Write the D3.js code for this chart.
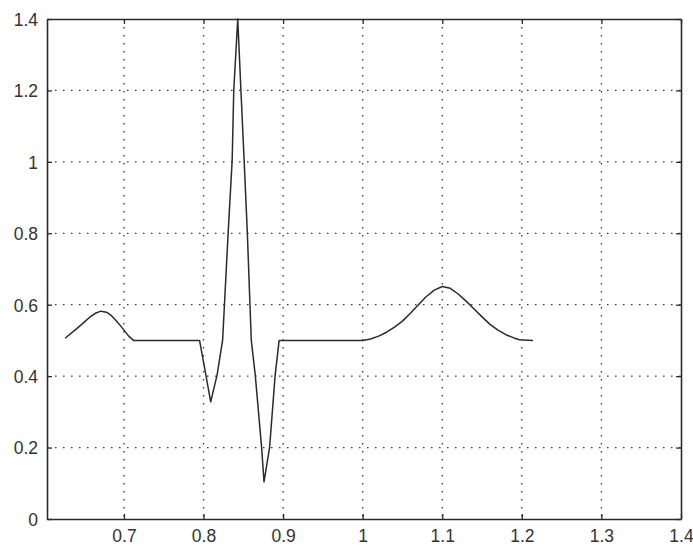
<!DOCTYPE html>
<html>
<head>
<meta charset="utf-8">
<script src="https://cdn.jsdelivr.net/npm/d3@7"></script>
<style>
  html, body { margin: 0; padding: 0; background: #ffffff; }
  svg { display: block; }
  text { font-family: "Liberation Sans", Arial, sans-serif; }
</style>
</head>
<body>
<svg id="chart" width="693" height="546"></svg>
<script>
// ---- Data ----
const xTicks = [0.7, 0.8, 0.9, 1.0, 1.1, 1.2, 1.3, 1.4];
const xTickLabels = ["0.7", "0.8", "0.9", "1", "1.1", "1.2", "1.3", "1.4"];
const yTicks = [0, 0.2, 0.4, 0.6, 0.8, 1.0, 1.2, 1.4];
const yTickLabels = ["0", "0.2", "0.4", "0.6", "0.8", "1", "1.2", "1.4"];

const timeValues = [
  0.626, 0.638, 0.648, 0.657, 0.664, 0.671, 0.678, 0.684, 0.690, 0.696, 0.701, 0.706, 0.712,
  0.795, 0.803, 0.809, 0.817, 0.824, 0.831, 0.836, 0.838, 0.843,
  0.847, 0.851, 0.855, 0.860, 0.865, 0.873, 0.876,
  0.883, 0.890, 0.895,
  1.000, 1.010, 1.020, 1.030, 1.040, 1.050, 1.060, 1.070, 1.080, 1.090, 1.100,
  1.110, 1.120, 1.130, 1.140, 1.150, 1.160, 1.170, 1.180, 1.190, 1.197, 1.214
];
const signalValues = [
  0.506, 0.528, 0.547, 0.565, 0.576, 0.582, 0.579, 0.570, 0.556, 0.540, 0.526, 0.512, 0.500,
  0.500, 0.403, 0.328, 0.403, 0.501, 0.804, 1.005, 1.201, 1.400,
  1.200, 1.005, 0.804, 0.501, 0.403, 0.200, 0.104,
  0.200, 0.403, 0.500,
  0.500, 0.504, 0.512, 0.523, 0.537, 0.554, 0.576, 0.600, 0.623, 0.641, 0.651,
  0.646, 0.630, 0.610, 0.588, 0.566, 0.545, 0.529, 0.516, 0.507, 0.502, 0.500
];

// ---- Layout ----
const svg = d3.select("#chart");
const mLeft = 47, mRight = 681, mTop = 19, mBottom = 519;

const x = d3.scaleLinear().domain([0.6033, 1.4]).range([mLeft, mRight]);
const y = d3.scaleLinear().domain([0, 1.4]).range([mBottom, mTop]);

const ink = "#2b2b2b";

// Grid lines (dotted)
const grid = svg.append("g");
grid.selectAll("line.vx").data(xTicks.filter(d => d < 1.4)).enter().append("line")
  .attr("x1", d => x(d)).attr("x2", d => x(d))
  .attr("y1", mTop).attr("y2", mBottom)
  .attr("stroke", "#3a3a3a").attr("stroke-width", 1.3)
  .attr("stroke-dasharray", "1.5,6.5");
grid.selectAll("line.hy").data(yTicks.filter(d => d > 0 && d < 1.4)).enter().append("line")
  .attr("x1", mLeft).attr("x2", mRight)
  .attr("y1", d => y(d)).attr("y2", d => y(d))
  .attr("stroke", "#3a3a3a").attr("stroke-width", 1.3)
  .attr("stroke-dasharray", "1.5,6.5");

// Axes (ticks inward on all sides)
const tickLen = 5;
const axB = svg.append("g").attr("transform", `translate(0,${mBottom})`)
  .call(d3.axisBottom(x).tickValues(xTicks).tickSizeInner(-tickLen).tickSizeOuter(0)
    .tickFormat((d, i) => xTickLabels[i]));
const axT = svg.append("g").attr("transform", `translate(0,${mTop})`)
  .call(d3.axisTop(x).tickValues(xTicks).tickSizeInner(-tickLen).tickSizeOuter(0)
    .tickFormat(""));
const axL = svg.append("g").attr("transform", `translate(${mLeft},0)`)
  .call(d3.axisLeft(y).tickValues(yTicks).tickSizeInner(-tickLen).tickSizeOuter(0)
    .tickFormat((d, i) => yTickLabels[i]));
const axR = svg.append("g").attr("transform", `translate(${mRight},0)`)
  .call(d3.axisRight(y).tickValues(yTicks).tickSizeInner(-tickLen).tickSizeOuter(0)
    .tickFormat(""));

[axB, axT, axL, axR].forEach(a => {
  a.select(".domain").attr("stroke", ink).attr("stroke-width", 1.6);
  a.selectAll(".tick line").attr("stroke", ink).attr("stroke-width", 1.3);
  a.selectAll(".tick text").attr("fill", "#333").style("font-size", "17.5px")
    .style("font-family", "'Liberation Sans', Arial, sans-serif");
});
axB.selectAll(".tick text").attr("dy", null).attr("y", 23);
axL.selectAll(".tick text").attr("x", -9).attr("dy", "0.36em");

// Signal line
const pts = timeValues.map((t, i) => [t, signalValues[i]]);
svg.append("path")
  .datum(pts)
  .attr("fill", "none")
  .attr("stroke", ink)
  .attr("stroke-width", 1.5)
  .attr("stroke-linejoin", "round")
  .attr("d", d3.line().x(d => x(d[0])).y(d => y(d[1])).curve(d3.curveLinear));
</script>
</body>
</html>
